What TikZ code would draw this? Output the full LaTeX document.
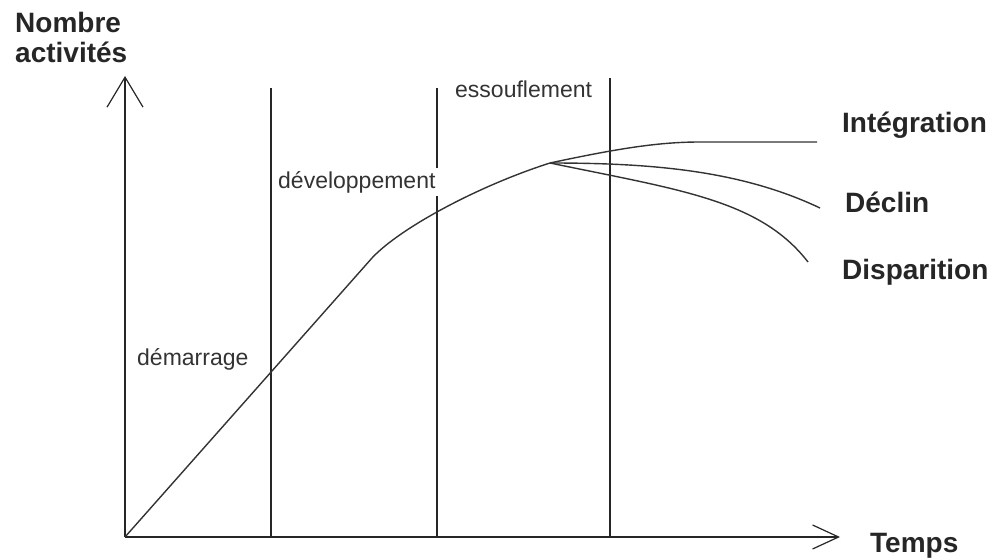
\documentclass[tikz,border=0pt]{standalone}
\usepackage{fontspec}
\setmainfont{Liberation Sans}
\usetikzlibrary{arrows.meta}

\begin{document}
\begin{tikzpicture}[
x=1pt,y=-1pt,
axe/.style={line width=1.6pt,draw=black!85},
phase/.style={line width=1.6pt,draw=black!85},
courbe/.style={line width=1.4pt,draw=black!80},
titre/.style={anchor=base west,inner sep=0pt,font=\fontsize{28}{30}\selectfont\bfseries,text=black!85},
etape/.style={anchor=base west,inner sep=0pt,font=\fontsize{23}{25}\selectfont,text=black!80}
]
\useasboundingbox (0,0) rectangle (996,559);
% axes
\coordinate (O) at (125,537);
\coordinate (ytop) at (125,76);
\coordinate (xend) at (840,537);
\draw[axe,-{Straight Barb[length=30pt,width=36pt,line width=1.2pt]}] (O) -- (ytop);
\draw[axe,-{Straight Barb[length=26pt,width=24pt,line width=1.2pt]}] (O) -- (xend);
\node[titre,align=left] (nombre) at (15,63) {Nombre\\activités};
\node[titre] (temps) at (870,552) {Temps};
% phases
\coordinate (p1) at (271,88);
\coordinate (p2) at (437,88);
\coordinate (p3) at (610,78);
\draw[phase] (p1) -- (p1 |- O);
\draw[phase] (p2) -- (p2 |- O);
\draw[phase] (p3) -- (p3 |- O);
\node[etape] (demarrage) at (137,365) {démarrage};
\node[etape,fill=white,inner sep=3pt] (dev) at (275,188) {développement};
\node[etape] (essouf) at (455,98) {essouflement};
% courbe
\coordinate (bend) at (372,258);
\coordinate (sommet) at (550,163);
\draw[courbe] (O) -- (bend) .. controls (400,228) and (478,186) .. (sommet);
\draw[courbe] (sommet) .. controls (620,148) and (660,142) .. (700,142) -- (817,142);
\draw[courbe] (sommet) .. controls (650,163) and (740,170) .. (820,208);
\draw[courbe] (sommet) .. controls (680,190) and (760,200) .. (808,262);
\node[titre] (integ) at (842,132) {Intégration};
\node[titre] (declin) at (845,212) {Déclin};
\node[titre] (dispar) at (842,279) {Disparition};
\end{tikzpicture}
\end{document}
